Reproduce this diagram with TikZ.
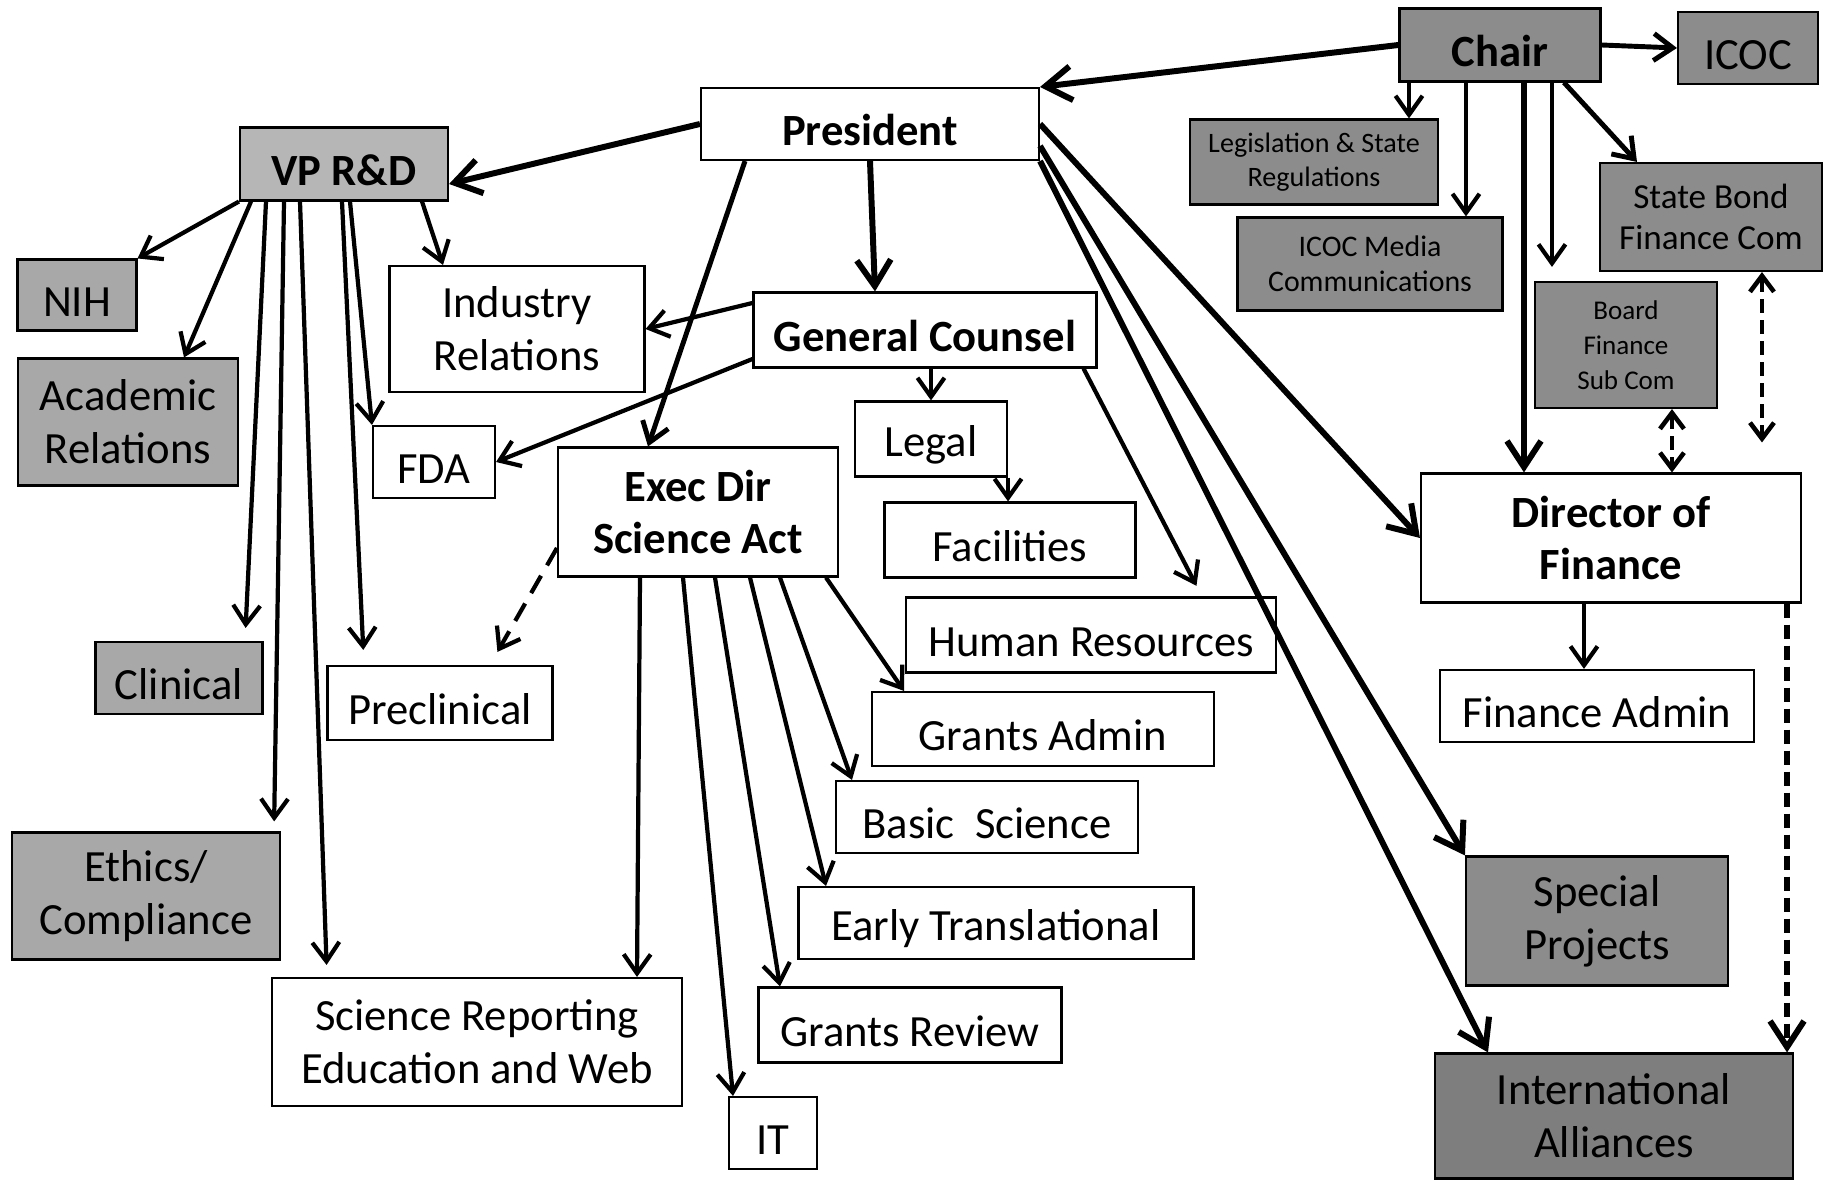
\documentclass[tikz,border=0pt]{standalone}
\usepackage{fontspec}
\setmainfont{Carlito}
\usetikzlibrary{arrows.meta}
\definecolor{boardgray}{HTML}{8C8C8C}
\definecolor{sidegray}{HTML}{A8A8A8}
\definecolor{vpgray}{HTML}{B6B6B6}
\definecolor{intlgray}{HTML}{7E7E7E}

\begin{document}
\begin{tikzpicture}[x=0.1mm, y=-0.1mm,
  every node/.style={draw, line width=0.6pt, align=center, inner sep=0pt, fill=white,
    font=\fontsize{12.7pt}{15pt}\selectfont, execute at begin node={\rule{0pt}{0.95em}}},
  hd/.style={font=\fontsize{12.7pt}{15pt}\selectfont\bfseries},
  gbox/.style={fill=boardgray},
  sbox/.style={fill=sidegray},
  arr/.style={line width=1.2pt, -{Straight Barb[length=1.9mm,width=2.7mm]}},
  barr/.style={line width=1.7pt, -{Straight Barb[length=2.6mm,width=3.4mm]}},
  darr/.style={line width=1.3pt, dash pattern=on 1.4mm off 0.7mm,
    {Straight Barb[length=1.6mm,width=2.4mm]}-{Straight Barb[length=1.6mm,width=2.4mm]}}]
\useasboundingbox (0,0) rectangle (1830,1180);

% board side
\node[gbox, hd, minimum width=20.1mm, minimum height=7.3mm] (chair) at (1500,45) {Chair};
\node[gbox, minimum width=14mm, minimum height=7.2mm] (icoc) at (1748,48) {ICOC};
\node[gbox, font=\fontsize{8pt}{9.5pt}\selectfont, minimum width=24.8mm, minimum height=8.5mm] (leg) at (1314,162) {Legislation \& State\\Regulations};
\node[gbox, font=\fontsize{8.5pt}{10pt}\selectfont, minimum width=26.5mm, minimum height=9.3mm] (icm) at (1370,264) {ICOC Media\\Communications};
\node[gbox, font=\fontsize{10pt}{11.7pt}\selectfont, minimum width=22.2mm, minimum height=10.8mm] (sb) at (1711,217) {State Bond\\Finance Com};
\node[gbox, font=\fontsize{7.7pt}{10pt}\selectfont, minimum width=18.2mm, minimum height=12.6mm] (bfc) at (1626,345) {Board\\Finance\\Sub Com};
\node[hd, minimum width=38mm, minimum height=12.9mm] (dof) at (1611,538) {Director of\\Finance};
\node[minimum width=31.4mm, minimum height=7.2mm] (fa) at (1597,706) {Finance Admin};
\node[gbox, minimum width=26.2mm, minimum height=12.9mm] (sp) at (1597,921) {Special\\Projects};
\node[fill=intlgray, minimum width=35.8mm, minimum height=12.5mm] (intl) at (1614,1116) {International\\Alliances};

% president and staff
\node[hd, minimum width=33.8mm, minimum height=7.2mm] (pres) at (870,124) {President};
\node[fill=vpgray, hd, minimum width=20.8mm, minimum height=7.3mm] (vp) at (344,164) {VP R\&D};
\node[hd, minimum width=34.3mm, minimum height=7.5mm] (gc) at (925,330) {General Counsel};
\node[hd, minimum width=28mm, minimum height=12.9mm] (exec) at (698,512) {Exec Dir\\Science Act};

\node[sbox, minimum width=11.9mm, minimum height=7.1mm] (nih) at (77,295) {NIH};
\node[sbox, minimum width=22mm, minimum height=12.7mm] (acad) at (128,422) {Academic\\Relations};
\node[sbox, minimum width=16.7mm, minimum height=7.2mm] (clin) at (179,678) {Clinical};
\node[sbox, minimum width=26.8mm, minimum height=12.7mm] (eth) at (146,896) {Ethics/\\Compliance};
\node[minimum width=25.5mm, minimum height=12.6mm] (ind) at (517,329) {Industry\\Relations};
\node[minimum width=12.2mm, minimum height=7.2mm] (fda) at (434,462) {FDA};
\node[minimum width=22.5mm, minimum height=7.4mm] (precl) at (440,703) {Preclinical};
\node[minimum width=41mm, minimum height=12.8mm] (sr) at (477,1042) {Science Reporting\\Education and Web};

\node[minimum width=15.2mm, minimum height=7.5mm] (legal) at (931,439) {Legal};
\node[minimum width=25.1mm, minimum height=7.5mm] (fac) at (1010,540) {Facilities};
\node[minimum width=37mm, minimum height=7.5mm] (hr) at (1091,635) {Human Resources};
\node[minimum width=34.2mm, minimum height=7.4mm] (ga) at (1043,729) {Grants Admin};
\node[minimum width=30.2mm, minimum height=7.2mm] (bs) at (987,817) {Basic\ \ Science};
\node[minimum width=39.5mm, minimum height=7.2mm] (et) at (996,923) {Early Translational};
\node[minimum width=30.3mm, minimum height=7.5mm] (gr) at (910,1025) {Grants Review};
\node[minimum width=8.8mm, minimum height=7.2mm] (it) at (773,1133) {IT};

% chair
\draw[barr] (chair.west) -- (pres.north east);
\draw[arr, line width=1.4pt] (chair.east) -- (icoc.west);
\draw[arr] ([xshift=-9.1mm]chair.south) coordinate (c1) -- (c1 |- leg.north);
\draw[arr] ([xshift=-3.4mm]chair.south) coordinate (c2) -- (c2 |- icm.north);
\draw[barr] ([xshift=2.4mm]chair.south) coordinate (c3) -- (c3 |- dof.north);
\draw[arr, shorten >=1.4mm] ([xshift=5.2mm]chair.south) coordinate (c4) -- (c4 |- bfc.north);
\draw[arr, line width=1.4pt] ([xshift=6.4mm]chair.south) -- ([xshift=-7.4mm]sb.north);
\draw[darr] ([xshift=4.6mm]bfc.south) coordinate (b1) -- (b1 |- dof.north);
\draw[darr, shorten >=3mm] ([xshift=5.1mm]sb.south) coordinate (s1) -- (s1 |- dof.north);
\draw[barr, dash pattern=on 1.4mm off 0.7mm] ([xshift=-1.5mm]dof.south east) coordinate (d1) -- (d1 |- intl.north);
\draw[arr] ([xshift=-2.7mm]dof.south) coordinate (d2) -- (d2 |- fa.north);

% president
\draw[barr] (pres.west) -- ([yshift=-2mm]vp.east);
\draw[barr] (pres.south) -- ([xshift=-5mm]gc.north);
\draw[arr, line width=1.4pt] ([xshift=-12.5mm]pres.south) -- ([xshift=-5mm]exec.north);
\draw[barr] (pres.east) -- (dof.west);
\draw[barr] ([yshift=-2.2mm]pres.east) -- (sp.north west);
\draw[barr] (pres.south east) -- ([xshift=-12.6mm]intl.north);

% vp r&d
\draw[arr] (vp.south west) -- (nih.north east);
\draw[arr] ([xshift=-9.3mm]vp.south) -- ([xshift=5.6mm]acad.north);
\draw[arr, shorten >=1.3mm] ([xshift=-7.8mm]vp.south) -- ([xshift=6.6mm]clin.north);
\draw[arr, shorten >=1mm] ([xshift=-6mm]vp.south) -- ([xshift=12.8mm]eth.north);
\draw[arr, shorten >=1.2mm] ([xshift=-4.4mm]vp.south) -- ([xshift=-15mm]sr.north);
\draw[arr, shorten >=1.5mm] ([xshift=-0.2mm]vp.south) -- ([xshift=-7.6mm]precl.north);
\draw[arr] ([xshift=0.6mm]vp.south) -- (fda.north west);
\draw[arr] ([xshift=7.8mm]vp.south) -- ([xshift=-7.4mm]ind.north);

% general counsel
\draw[arr] ([yshift=2.7mm]gc.west) -- (ind.east);
\draw[arr] ([yshift=-2.9mm]gc.west) -- (fda.east);
\draw[arr] (legal.north |- gc.south) -- (legal.north);
\draw[arr, shorten >=1.2mm] ([xshift=-1.4mm]gc.south east) -- ([xshift=11.1mm]hr.north);
\draw[arr] (legal.south east) -- (legal.south east |- fac.north);

% exec dir
\draw[arr, dash pattern=on 2mm off 1.2mm, shorten >=1.5mm] ([yshift=-3.6mm]exec.west) -- ([xshift=5mm]precl.north);
\draw[arr] ([xshift=-5.8mm]exec.south) -- ([xshift=16mm]sr.north);
\draw[arr] ([xshift=-1.5mm]exec.south) -- ([xshift=-4mm]it.north);
\draw[arr] ([xshift=1.7mm]exec.south) -- ([xshift=-13mm]gr.north);
\draw[arr] ([xshift=5.2mm]exec.south) -- ([xshift=-17mm]et.north);
\draw[arr] ([xshift=8.2mm]exec.south) -- ([xshift=-13.5mm]bs.north);
\draw[arr] ([xshift=12.8mm]exec.south) -- ([xshift=-13.9mm]ga.north);
\end{tikzpicture}
\end{document}
